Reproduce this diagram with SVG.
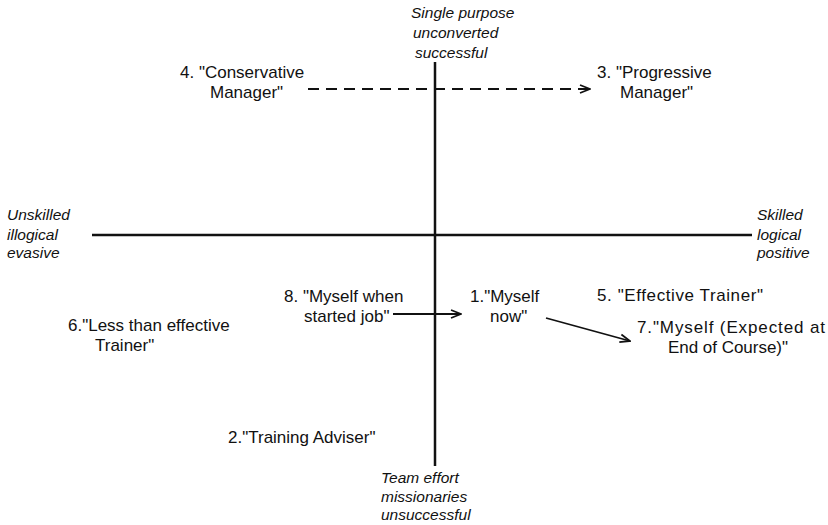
<svg xmlns="http://www.w3.org/2000/svg" width="828" height="525" viewBox="0 0 828 525">
  <style>
    .lbl { font-family: "Liberation Sans", Arial, sans-serif; font-size: 17px; fill: #111; }
    .ax { font-family: "Liberation Sans", Arial, sans-serif; font-size: 15.5px; font-style: italic; fill: #111; }
    .axis { stroke: #111; stroke-width: 2.5; fill: none; }
    .link { stroke: #111; stroke-width: 1.8; fill: none; marker-end: url(#chev); }
    .dash { stroke-dasharray: 11 7; }
  </style>
  <defs>
    <marker id="chev" viewBox="0 0 12 10" refX="11" refY="5" markerWidth="12" markerHeight="10" markerUnits="userSpaceOnUse" orient="auto">
      <path d="M1,1 L11,5 L1,9" fill="none" stroke="#111" stroke-width="1.8"/>
    </marker>
  </defs>
  <rect width="828" height="525" fill="#fff"/>

  <!-- axes -->
  <g id="axes">
    <line class="axis" x1="435" y1="62" x2="435" y2="466"/>
    <line class="axis" x1="92" y1="235" x2="752" y2="235"/>
  </g>

  <!-- pole labels -->
  <g id="pole-top">
    <text class="ax" x="411" y="18">Single purpose</text>
    <text class="ax" x="413" y="38">unconverted</text>
    <text class="ax" x="415" y="58">successful</text>
  </g>
  <g id="pole-bottom">
    <text class="ax" x="381" y="483">Team effort</text>
    <text class="ax" x="381" y="502">missionaries</text>
    <text class="ax" x="381" y="520">unsuccessful</text>
  </g>
  <g id="pole-left">
    <text class="ax" x="7" y="220">Unskilled</text>
    <text class="ax" x="7" y="240">illogical</text>
    <text class="ax" x="7" y="258">evasive</text>
  </g>
  <g id="pole-right">
    <text class="ax" x="757" y="220">Skilled</text>
    <text class="ax" x="757" y="240">logical</text>
    <text class="ax" x="757" y="258">positive</text>
  </g>

  <!-- positions -->
  <g id="n4">
    <text class="lbl" x="180" y="78">4. "Conservative</text>
    <text class="lbl" x="210" y="98">Manager"</text>
  </g>
  <g id="n3">
    <text class="lbl" x="597" y="78">3. "Progressive</text>
    <text class="lbl" x="620" y="98">Manager"</text>
  </g>
  <g id="n8">
    <text class="lbl" x="284" y="302">8. "Myself when</text>
    <text class="lbl" x="304" y="322">started job"</text>
  </g>
  <g id="n1">
    <text class="lbl" x="470" y="302">1."Myself</text>
    <text class="lbl" x="490" y="322">now"</text>
  </g>
  <g id="n5">
    <text class="lbl" x="597" y="301" textLength="166">5. "Effective Trainer"</text>
  </g>
  <g id="n7">
    <text class="lbl" x="637" y="333" textLength="188">7."Myself (Expected at</text>
    <text class="lbl" x="668" y="353" textLength="120">End of Course)"</text>
  </g>
  <g id="n6">
    <text class="lbl" x="68" y="331">6."Less than effective</text>
    <text class="lbl" x="95" y="351">Trainer"</text>
  </g>
  <g id="n2">
    <text class="lbl" x="228" y="443">2."Training Adviser"</text>
  </g>

  <!-- connectors -->
  <g id="connectors">
    <line class="link dash" x1="308" y1="89" x2="590" y2="89"/>
    <line class="link" x1="393" y1="314" x2="461" y2="314"/>
    <line class="link" x1="546" y1="318" x2="630" y2="341"/>
  </g>
</svg>
